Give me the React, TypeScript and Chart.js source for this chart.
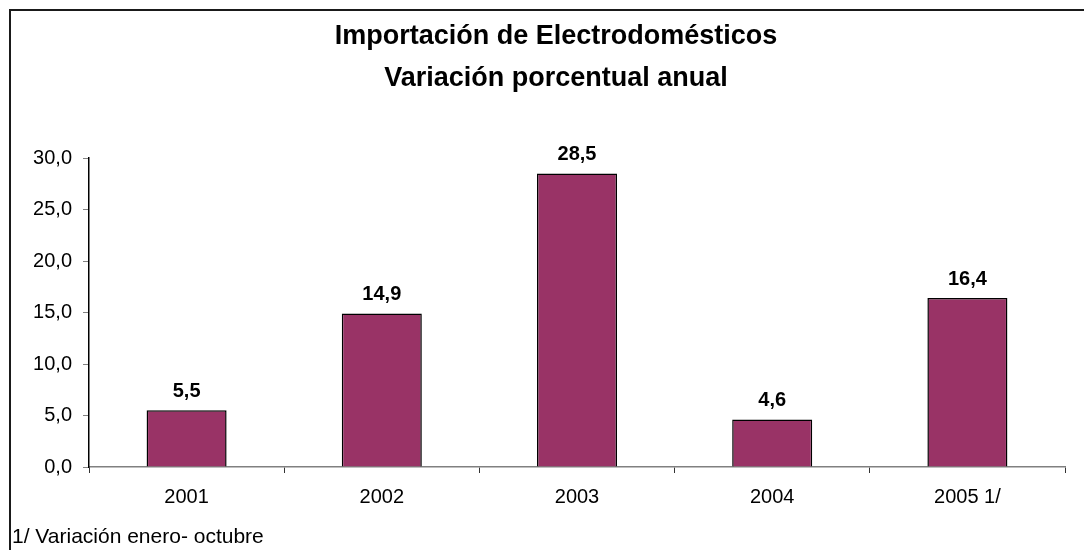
import React, { useEffect, useRef } from "react";
import { Chart, registerables } from "chart.js";

Chart.register(...registerables);

const titleLines = ["Importación de Electrodomésticos", "Variación porcentual anual"];
const categories = ["2001", "2002", "2003", "2004", "2005 1/"];
const values = [5.5, 14.9, 28.5, 4.6, 16.4];
const yMin = 0;
const yMax = 30;
const yStep = 5;
const footnote = "1/ Variación enero- octubre";

const FONT = "'Liberation Sans', Arial, Helvetica, sans-serif";
const fmt = (v: number) => v.toFixed(1).replace(".", ",");

const TITLE_SIZE = 27;
const TITLE_LINE = 42;
const TITLE_TOP = 16;

const decorPlugin = {
  id: "decor",
  afterDatasetsDraw(chart: any) {
    const ctx = chart.ctx;
    const meta = chart.getDatasetMeta(0);
    ctx.save();
    ctx.fillStyle = "#000";
    ctx.font = `bold 20px ${FONT}`;
    ctx.textAlign = "center";
    ctx.textBaseline = "middle";
    meta.data.forEach((bar: any, i: number) => {
      ctx.fillText(fmt(values[i]), bar.x, bar.y - 19);
    });
    ctx.restore();
  },
  afterDraw(chart: any) {
    const ctx = chart.ctx;
    ctx.save();
    ctx.strokeStyle = "#1a1a1a";
    ctx.lineWidth = 2;
    ctx.beginPath();
    ctx.moveTo(10, chart.height);
    ctx.lineTo(10, 10);
    ctx.lineTo(chart.width, 10);
    ctx.stroke();
    // title, centred on the frame
    ctx.fillStyle = "#000";
    ctx.font = `bold ${TITLE_SIZE}px ${FONT}`;
    ctx.textAlign = "center";
    ctx.textBaseline = "middle";
    titleLines.forEach((line, i) => {
      ctx.fillText(line, 556, TITLE_TOP + TITLE_LINE / 2 + i * TITLE_LINE);
    });
    // footnote
    ctx.font = `21px ${FONT}`;
    ctx.textAlign = "left";
    ctx.fillText(footnote, 12, 537);
    ctx.restore();
  },
};

export default function App() {
  const canvasRef = useRef<HTMLCanvasElement | null>(null);

  useEffect(() => {
    if (!canvasRef.current) return;
    const chart = new Chart(canvasRef.current, {
      type: "bar",
      data: {
        labels: categories,
        datasets: [
          {
            data: values,
            backgroundColor: "#993366",
            borderColor: "#000000",
            borderWidth: 1.5,
            barPercentage: 0.41,
            categoryPercentage: 1,
          },
        ],
      },
      options: {
        responsive: false,
        animation: false,
        layout: { padding: { left: 0, right: 19, top: 0, bottom: 43 } },
        plugins: {
          legend: { display: false },
          tooltip: { enabled: false },
          title: {
            display: true,
            text: titleLines,
            color: "rgba(0,0,0,0)",
            font: { family: FONT, size: TITLE_SIZE, weight: "bold", lineHeight: TITLE_LINE / TITLE_SIZE },
            padding: { top: TITLE_TOP, bottom: 58 },
          },
        },
        scales: {
          x: {
            grid: {
              offset: true,
              drawOnChartArea: false,
              drawTicks: true,
              tickLength: 6,
              color: "#333",
            },
            border: { display: true, color: "#808080", width: 1.5 },
            ticks: {
              color: "#000",
              font: { family: FONT, size: 20 },
              padding: 12,
              maxRotation: 0,
            },
            afterFit(scale: any) {
              scale.height = 40;
            },
          },
          y: {
            min: yMin,
            max: yMax,
            ticks: {
              stepSize: yStep,
              color: "#000",
              font: { family: FONT, size: 20 },
              padding: 11,
              callback: (v: any) => fmt(Number(v)),
            },
            grid: {
              drawOnChartArea: false,
              drawTicks: true,
              tickLength: 6,
              color: "#808080",
            },
            border: { display: true, color: "#000", width: 1.5 },
            afterFit(scale: any) {
              scale.width = 89;
            },
          },
        },
      },
      plugins: [decorPlugin],
    } as any);
    return () => chart.destroy();
  }, []);

  return (
    <div style={{ position: "absolute", left: 0, top: 0, width: 1084, height: 550, background: "#fff" }}>
      <canvas ref={canvasRef} width={1084} height={550} />
    </div>
  );
}
